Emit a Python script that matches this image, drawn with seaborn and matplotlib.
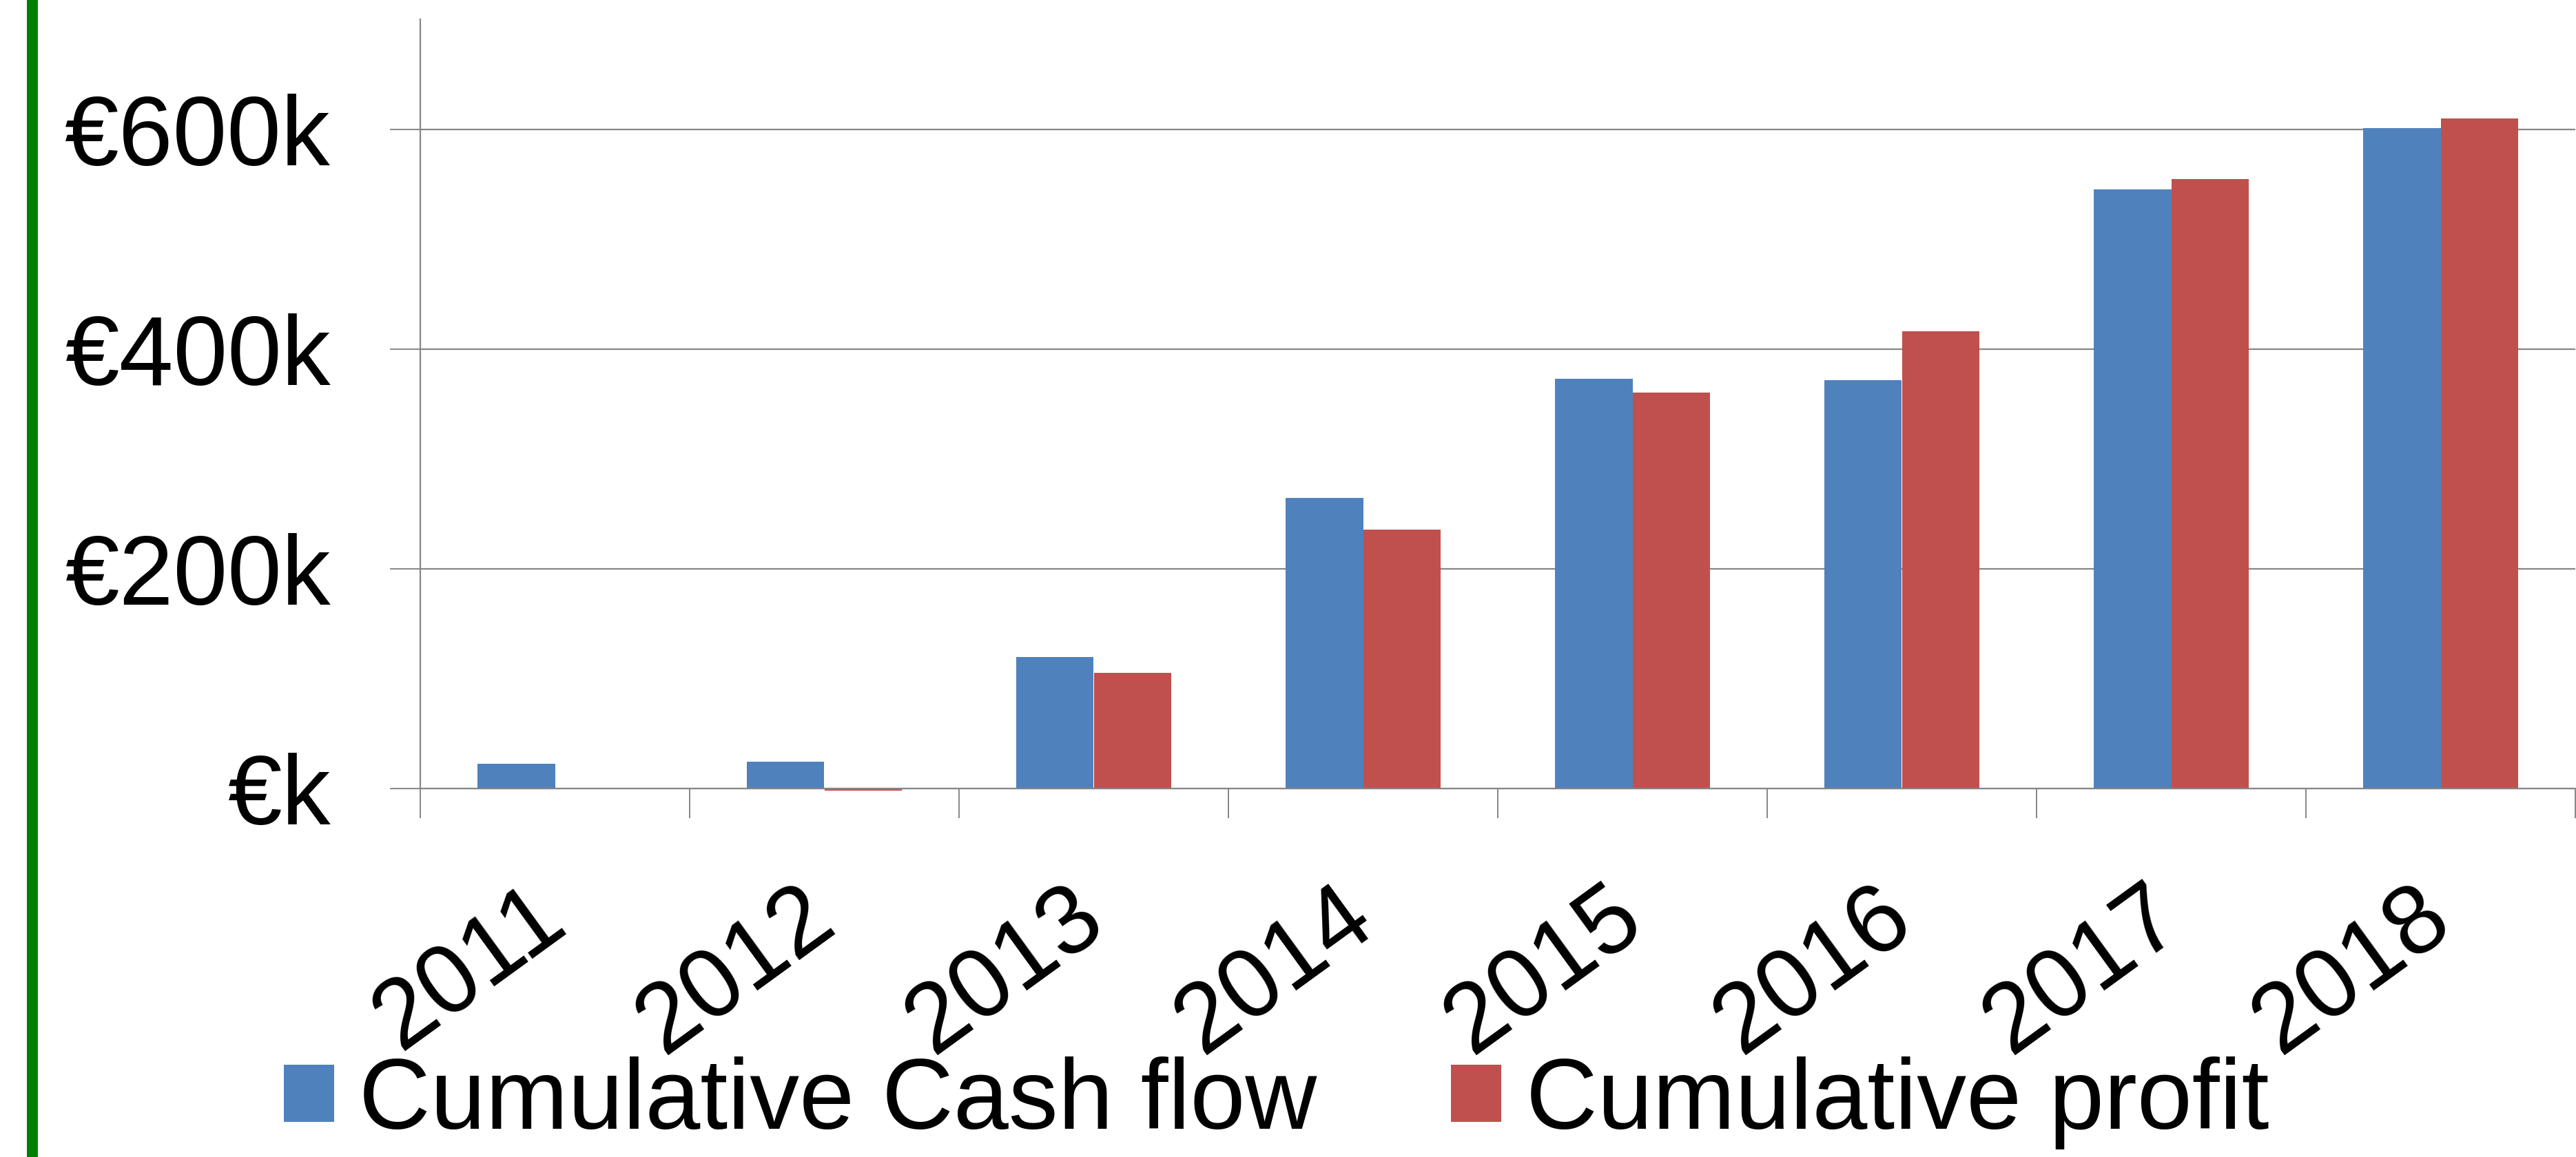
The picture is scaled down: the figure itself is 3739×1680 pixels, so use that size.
import numpy as np
import pandas as pd
import matplotlib
import matplotlib.pyplot as plt
import seaborn as sns
from matplotlib.lines import Line2D
from matplotlib.patches import Patch

sns.set_theme(style="white")
matplotlib.rcParams["font.family"] = ["Liberation Sans", "DejaVu Sans"]
matplotlib.rcParams["text.color"] = "black"

# ── data (€) ─────────────────────────────────────────────────────────────────
years = ["2011", "2012", "2013", "2014", "2015", "2016", "2017", "2018"]
cash_flow = [22.5e3, 24.2e3, 119.6e3, 264.5e3, 372.7e3, 371.8e3, 544.9e3, 601.1e3]
profit = [0.0, -2.0e3, 105.0e3, 235.5e3, 360.5e3, 416.2e3, 554.3e3, 609.5e3]
series = ["Cumulative Cash flow", "Cumulative profit"]
y_ticks = [0, 200e3, 400e3, 600e3]
y_labels = ["€k", "€200k", "€400k", "€600k"]

BLUE = "#4F81BD"
RED = "#C0504D"
GRID = "#868686"
FS = 102

df = pd.DataFrame({
    "year": years * 2,
    "series": [series[0]] * len(years) + [series[1]] * len(years),
    "value": cash_flow + profit,
})

fig = plt.figure(figsize=(37.39, 16.8), dpi=100)
ax = fig.add_axes([610 / 3739, (1680 - 1145) / 1680, (3738 - 610) / 3739, (1145 - 28) / 1680])

sns.barplot(data=df, x="year", y="value", hue="series", hue_order=series,
            palette=[BLUE, RED], width=0.574, errorbar=None, legend=False,
            saturation=1, ax=ax)
for p in ax.patches:
    p.set_linewidth(0)
    p.set_clip_on(False)

ax.set_xlim(-0.5, 7.5)
ax.set_ylim(0, 700e3)

# grid + axes lines
ax.set_yticks(y_ticks)
ax.set_yticklabels(y_labels, fontsize=FS)
ax.yaxis.grid(True, color=GRID, linewidth=1.6)
ax.xaxis.grid(False)
ax.set_axisbelow(True)
for side in ["top", "right"]:
    ax.spines[side].set_visible(False)
for side in ["left", "bottom"]:
    ax.spines[side].set_color(GRID)
    ax.spines[side].set_linewidth(1.6)

ax.tick_params(axis="y", direction="out", length=31.5, width=1.4, color=GRID,
               labelcolor="black", pad=62, left=True)

# category dividers as major ticks, labels on minor ticks
ax.set_xticks(np.arange(-0.5, 8, 1))
ax.set_xticklabels([""] * 9)
ax.set_xticks(np.arange(len(years)), minor=True)
ax.set_xticklabels(years, minor=True, fontsize=FS, rotation=36,
                   ha="right", va="center", rotation_mode="anchor")
ax.tick_params(axis="x", which="major", direction="out", length=31, width=1.4,
               color=GRID, bottom=True)
ax.tick_params(axis="x", which="minor", length=0, pad=124, bottom=True,
               labelcolor="black")

ax.set_xlabel("")
ax.set_ylabel("")

# legend
handles = [Patch(facecolor=BLUE, edgecolor="none"), Patch(facecolor=RED, edgecolor="none")]
leg = fig.legend(handles, series, loc="center", bbox_to_anchor=(0.4955, 0.047), ncol=2,
                 frameon=False, fontsize=103.5, handlelength=0.51, handleheight=0.51,
                 handletextpad=0.25, columnspacing=1.35, borderpad=0)
for t in leg.get_texts():
    t.set_color("black")

# green bar on the left edge
fig.add_artist(Line2D([0.01257, 0.01257], [0, 1], transform=fig.transFigure,
                      color="#008000", linewidth=11.5))

fig.savefig("out.png", dpi=100)
